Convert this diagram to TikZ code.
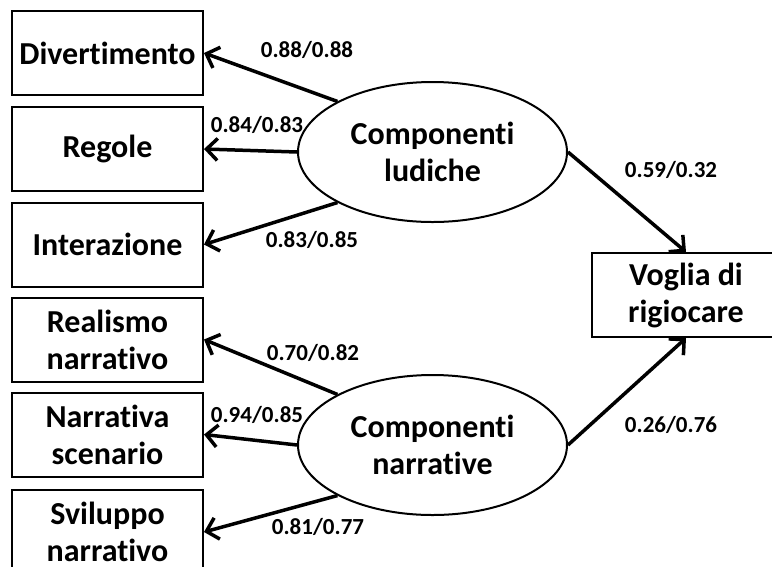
\documentclass[tikz,border=0pt]{standalone}
\usepackage{fontspec}
\setmainfont[Ligatures={NoCommon}]{Carlito}
\usetikzlibrary{arrows.meta,shapes.geometric}
\begin{document}
\begin{tikzpicture}[x=1pt,y=-1pt,
  obs/.style={draw,line width=2pt,minimum width=191pt,minimum height=84pt,inner sep=0pt,align=center,font=\fontsize{32}{37}\selectfont\bfseries},
  lat/.style={draw,ellipse,line width=2pt,minimum width=269pt,minimum height=140pt,inner sep=0pt,align=center,font=\fontsize{32}{37}\selectfont\bfseries},
  lbl/.style={font=\fontsize{23}{26}\selectfont\bfseries,inner sep=0pt},
  arr/.style={line width=3.5pt,-{Straight Barb[length=11pt,width=22pt,line width=3.5pt]}}]
\useasboundingbox (0,0) rectangle (772,566);
\clip (0,0) rectangle (772,566);
\fill[white] (0,0) rectangle (772,566);
\node[obs] (div) at (107.5,53) {Divertimento};
\node[obs] (reg) at (107.5,149) {Regole};
\node[obs] (int) at (107.5,244.5) {Interazione};
\node[obs] (rea) at (107.5,339.5) {Realismo\\narrativo};
\node[obs] (nar) at (107.5,434.5) {Narrativa\\scenario};
\node[obs] (svi) at (107.5,532) {Sviluppo\\narrativo};
\node[lat] (lud) at (432.5,152) {Componenti\\ludiche};
\node[lat] (nrt) at (432.5,445) {Componenti\\narrative};
\node[obs,minimum width=188pt] (vog) at (686,295) {Voglia di\\rigiocare};
\draw[arr] (lud.152) -- (div.east);
\draw[arr] (lud.west) -- (reg.east);
\draw[arr] (lud.208) -- (int.east);
\draw[arr] (nrt.152) -- (rea.east);
\draw[arr] (nrt.west) -- (nar.east);
\draw[arr] (nrt.208) -- (svi.east);
\draw[arr] (lud.east) -- (vog.north);
\draw[arr] (nrt.east) -- (vog.south);
\node[lbl] (l1) at (307,50) {0.88/0.88};
\node[lbl] (l2) at (257,125) {0.84/0.83};
\node[lbl] (l3) at (312,240) {0.83/0.85};
\node[lbl] (l4) at (671,170) {0.59/0.32};
\node[lbl] (l5) at (313,353) {0.70/0.82};
\node[lbl] (l6) at (257,415) {0.94/0.85};
\node[lbl] (l7) at (318,527) {0.81/0.77};
\node[lbl] (l8) at (671,425) {0.26/0.76};
\end{tikzpicture}
\end{document}
